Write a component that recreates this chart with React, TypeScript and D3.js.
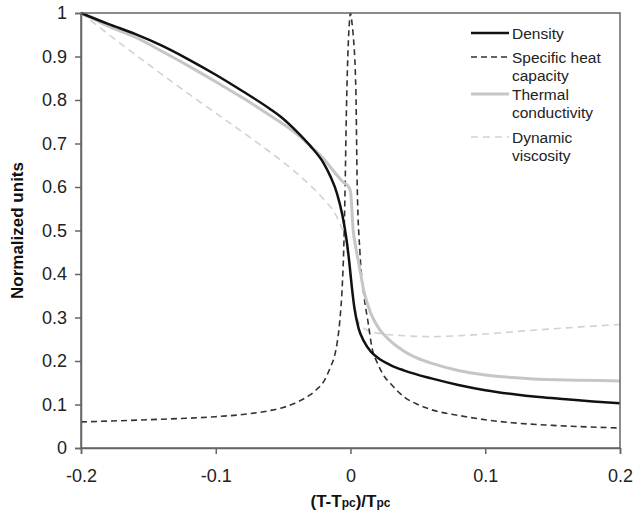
import { useEffect, useRef } from 'react'
import * as d3 from 'd3'

const densityX = [-0.2, -0.18, -0.16, -0.14, -0.12, -0.1, -0.08, -0.06, -0.05, -0.04, -0.03, -0.02, -0.015, -0.01, -0.006, -0.003, -0.001, 0.001, 0.003, 0.006, 0.01, 0.015, 0.02, 0.03, 0.04, 0.06, 0.08, 0.1, 0.12, 0.14, 0.16, 0.18, 0.2]
const densityY = [1, 0.975, 0.952, 0.925, 0.893, 0.858, 0.82, 0.78, 0.757, 0.728, 0.695, 0.655, 0.625, 0.585, 0.535, 0.48, 0.43, 0.37, 0.32, 0.275, 0.245, 0.222, 0.208, 0.19, 0.178, 0.16, 0.145, 0.133, 0.124, 0.117, 0.112, 0.107, 0.103]

const heatX = [-0.2, -0.15, -0.1, -0.08, -0.06, -0.05, -0.04, -0.03, -0.025, -0.02, -0.015, -0.012, -0.01, -0.008, -0.006, -0.005, -0.004, -0.003, -0.002, -0.001, 0, 0.001, 0.002, 0.004, 0.005, 0.007, 0.01, 0.013, 0.016, 0.02, 0.025, 0.03, 0.04, 0.05, 0.06, 0.08, 0.1, 0.12, 0.15, 0.2]
const heatY = [0.06, 0.065, 0.072, 0.077, 0.086, 0.093, 0.105, 0.122, 0.135, 0.152, 0.185, 0.21, 0.24, 0.29, 0.38, 0.46, 0.6, 0.78, 0.9, 0.97, 1, 0.98, 0.95, 0.82, 0.6, 0.45, 0.35, 0.29, 0.23, 0.195, 0.165, 0.147, 0.117, 0.1, 0.088, 0.075, 0.065, 0.058, 0.052, 0.046]

const thermalX = [-0.2, -0.18, -0.16, -0.14, -0.12, -0.1, -0.08, -0.06, -0.04, -0.03, -0.02, -0.01, -0.005, -0.002, 0, 0.002, 0.004, 0.007, 0.01, 0.015, 0.02, 0.03, 0.04, 0.05, 0.06, 0.08, 0.1, 0.12, 0.14, 0.17, 0.2]
const thermalY = [1, 0.97, 0.945, 0.912, 0.878, 0.842, 0.805, 0.765, 0.722, 0.695, 0.665, 0.627, 0.61, 0.603, 0.59, 0.5, 0.46, 0.41, 0.36, 0.31, 0.28, 0.245, 0.222, 0.206, 0.195, 0.178, 0.168, 0.162, 0.158, 0.156, 0.154]

const viscX = [-0.2, -0.18, -0.16, -0.14, -0.12, -0.1, -0.08, -0.06, -0.04, -0.03, -0.02, -0.01, -0.005, -0.002, 0, 0.003, 0.006, 0.01, 0.02, 0.04, 0.06, 0.08, 0.1, 0.12, 0.15, 0.2]
const viscY = [1, 0.952, 0.905, 0.859, 0.814, 0.77, 0.726, 0.681, 0.632, 0.604, 0.572, 0.53, 0.49, 0.445, 0.39, 0.32, 0.29, 0.275, 0.264, 0.258, 0.256, 0.258, 0.262, 0.267, 0.274, 0.284]

const xTicks = [-0.2, -0.1, 0, 0.1, 0.2]
const yTicks = [0, 0.1, 0.2, 0.3, 0.4, 0.5, 0.6, 0.7, 0.8, 0.9, 1]

const seriesNames = ['Density', 'Specific heat capacity', 'Thermal conductivity', 'Dynamic viscosity']

export default function App() {
  const chartRef = useRef<SVGSVGElement | null>(null)

  useEffect(() => {
    const svg = d3.select(chartRef.current)
    svg.selectAll('*').remove()

    const left = 81, right = 620, top = 13, bottom = 448
    const x = d3.scaleLinear().domain([-0.2, 0.2]).range([left, right])
    const y = d3.scaleLinear().domain([0, 1]).range([bottom, top])
    const axisColor = '#666'
    const font = 'Liberation Sans, Arial, sans-serif'

    const series = [
      { name: seriesNames[0], xs: densityX, ys: densityY, color: '#111', width: 2.5, dash: null },
      { name: seriesNames[1], xs: heatX, ys: heatY, color: '#333', width: 1.6, dash: '6,4' },
      { name: seriesNames[2], xs: thermalX, ys: thermalY, color: '#c6c6c6', width: 3, dash: null },
      { name: seriesNames[3], xs: viscX, ys: viscY, color: '#d2d2d2', width: 1.6, dash: '7,5' },
    ]

    const line = d3.line<[number, number]>()
      .x(d => x(d[0]))
      .y(d => y(d[1]))
      .curve(d3.curveMonotoneX)

    // curves, drawn under the frame
    const order = [3, 1, 2, 0]
    order.forEach(i => {
      const s = series[i]
      const pts = s.xs.map((v, j) => [v, s.ys[j]] as [number, number])
      svg.append('path')
        .attr('d', line(pts))
        .attr('fill', 'none')
        .attr('stroke', s.color)
        .attr('stroke-width', s.width)
        .attr('stroke-dasharray', s.dash)
    })

    // frame
    svg.append('rect')
      .attr('x', left).attr('y', top)
      .attr('width', right - left).attr('height', bottom - top)
      .attr('fill', 'none')
      .attr('stroke', axisColor)
      .attr('stroke-width', 1.5)

    const fmt = (d: d3.NumberValue) => `${+(+d).toFixed(1)}`
    const yAxis = svg.append('g')
      .attr('transform', `translate(${left},0)`)
      .call(d3.axisLeft(y).tickValues(yTicks).tickSize(6).tickPadding(8).tickFormat(fmt))
    const xAxis = svg.append('g')
      .attr('transform', `translate(0,${bottom})`)
      .call(d3.axisBottom(x).tickValues(xTicks).tickSize(6).tickPadding(15).tickFormat(fmt))

    ;[yAxis, xAxis].forEach(ax => {
      ax.select('.domain').attr('stroke', axisColor).attr('stroke-width', 1.5)
      ax.selectAll('.tick line').attr('stroke', axisColor).attr('stroke-width', 1.5)
      ax.selectAll('.tick text')
        .attr('fill', '#222')
        .style('font-family', font)
        .style('font-size', '18px')
    })

    // axis titles
    svg.append('text')
      .attr('transform', `translate(23,${(top + bottom) / 2}) rotate(-90)`)
      .attr('text-anchor', 'middle')
      .style('font-family', font)
      .style('font-size', '17px')
      .style('font-weight', 'bold')
      .attr('fill', '#111')
      .text('Normalized units')

    const xt = svg.append('text')
      .attr('x', (left + right) / 2)
      .attr('y', 507)
      .attr('text-anchor', 'middle')
      .style('font-family', font)
      .style('font-size', '17px')
      .style('font-weight', 'bold')
      .attr('fill', '#111')
    xt.append('tspan').text('(T-T')
    xt.append('tspan').style('font-size', '12px').text('pc')
    xt.append('tspan').text(')/T')
    xt.append('tspan').style('font-size', '12px').text('pc')

    // legend
    const legendRows = [
      { s: series[0], lines: ['Density'], y: 33 },
      { s: series[1], lines: ['Specific heat', 'capacity'], y: 57 },
      { s: series[2], lines: ['Thermal', 'conductivity'], y: 94 },
      { s: series[3], lines: ['Dynamic', 'viscosity'], y: 137 },
    ]
    const legend = svg.append('g')
    legendRows.forEach(r => {
      legend.append('line')
        .attr('x1', 471).attr('x2', 509)
        .attr('y1', r.y).attr('y2', r.y)
        .attr('stroke', r.s.color)
        .attr('stroke-width', r.s.width)
        .attr('stroke-dasharray', r.s.dash)
      r.lines.forEach((t, k) => {
        legend.append('text')
          .attr('x', 512)
          .attr('y', r.y + 5.5 + k * 18)
          .style('font-family', font)
          .style('font-size', '15.5px')
          .attr('fill', '#222')
          .text(t)
      })
    })
  }, [])

  return (
    <svg ref={chartRef} width={636} height={522}
      style={{ position: 'absolute', left: 0, top: 0, background: '#fff' }} />
  )
}
